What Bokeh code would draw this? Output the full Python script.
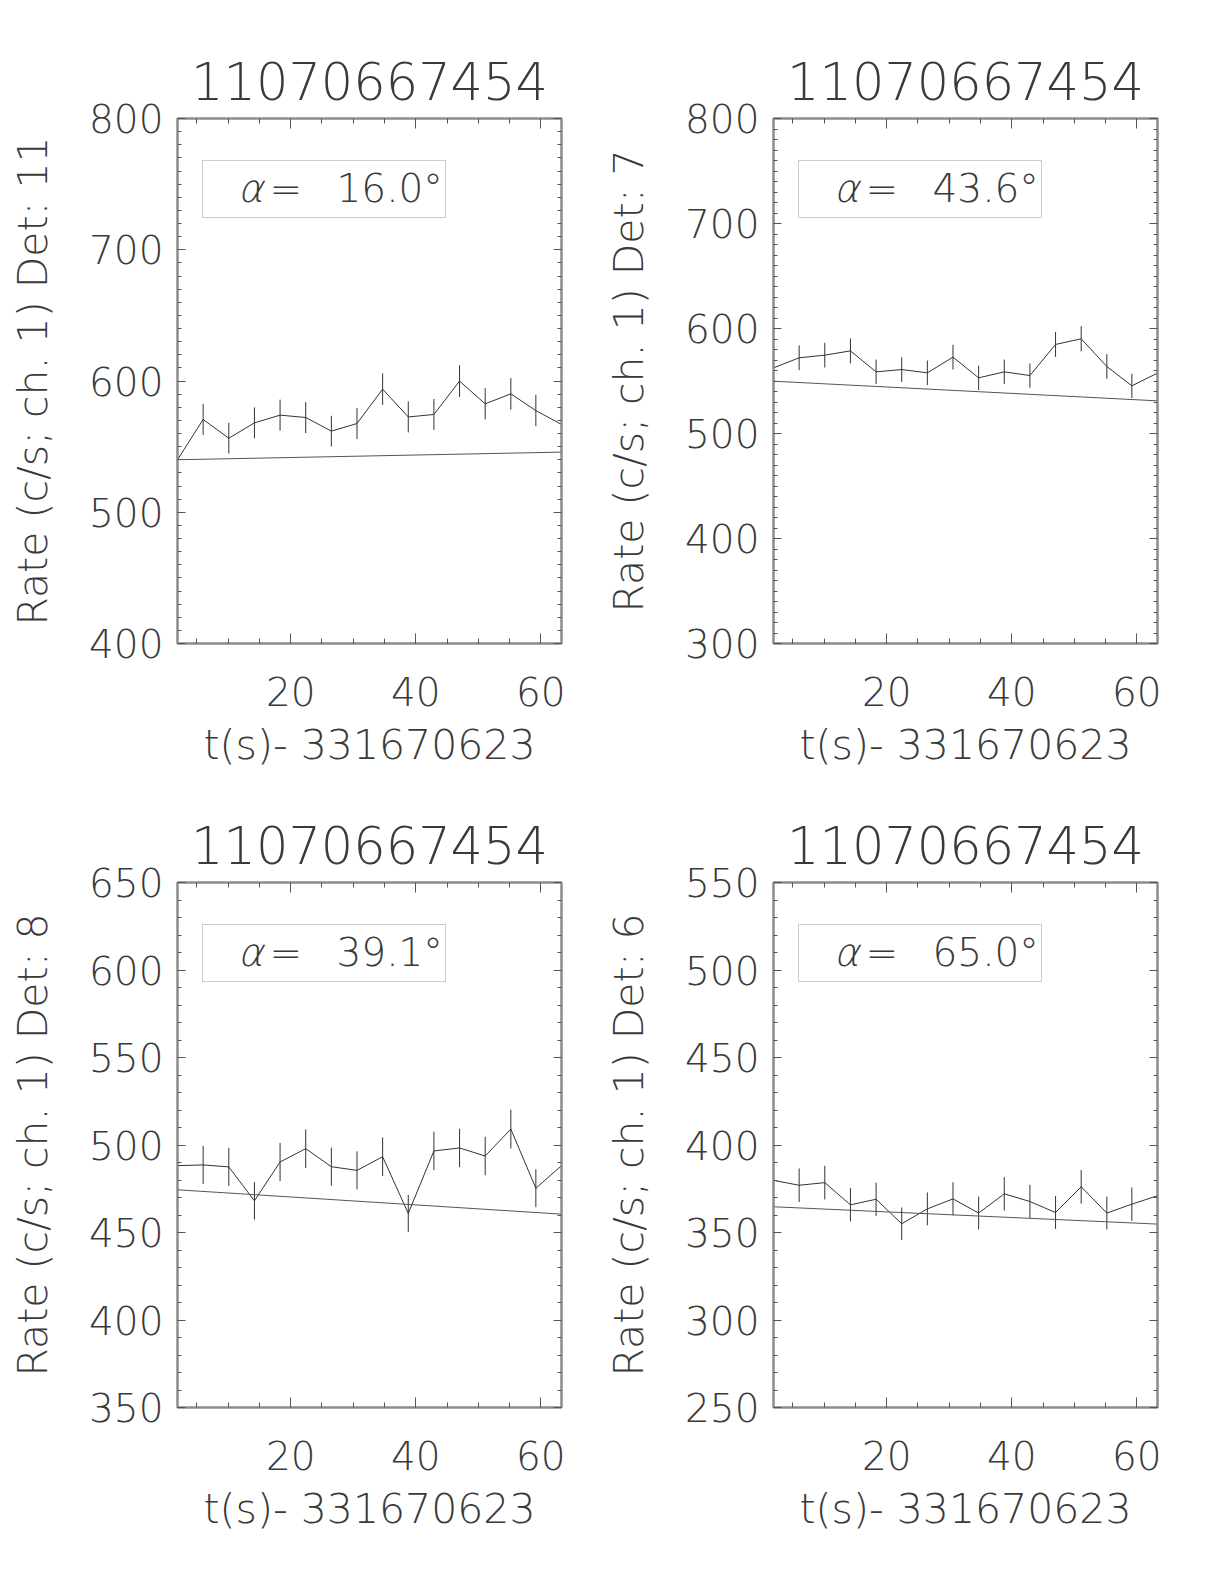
from bokeh.plotting import figure
from bokeh.layouts import gridplot
from bokeh.models import (LinearAxis, Range1d, BoxAnnotation, Label, FixedTicker,
                          SingleIntervalTicker, CustomLabelingPolicy)
from bokeh.embed import file_html
from bokeh.resources import INLINE

# ---------------- data ----------------
title_text = "11070667454"
x_label = "t(s)- 331670623"
t_sec = [1.9, 6.0, 10.1, 14.2, 18.3, 22.4, 26.5, 30.6, 34.7, 38.8, 42.9, 47.0, 51.1, 55.2, 59.2, 63.3]
x_major_ticks = [20, 40, 60]
x_minor_ticks = [5, 10, 15, 25, 30, 35, 45, 50, 55]

detectors = ["11", "7", "8", "6"]
alpha_deg = ["16.0", "43.6", "39.1", "65.0"]
y_lo = [400, 300, 350, 250]
y_hi = [800, 800, 650, 550]
y_step = [100, 100, 50, 50]
y_minor = [10, 10, 5, 5]

rate_det11 = [540.0, 570.7, 556.4, 568.1, 574.0, 572.2, 561.8, 567.6, 593.8, 572.6, 574.5, 599.9, 582.6, 590.2, 577.5, 566.9]
err_det11 = [11.5, 11.8, 11.7, 11.8, 11.8, 11.8, 11.7, 11.8, 12.0, 11.8, 11.8, 12.1, 11.9, 12.0, 11.9, 11.8]
fit_det11 = [540.0, 545.8]

rate_det7 = [562.5, 572.1, 574.6, 578.7, 558.7, 560.9, 557.8, 572.7, 553.0, 558.7, 555.2, 584.8, 590.2, 563.8, 545.4, 557.5]
err_det7 = [11.7, 11.8, 11.8, 11.9, 11.7, 11.7, 11.7, 11.8, 11.6, 11.7, 11.6, 11.9, 12.0, 11.7, 11.5, 11.7]
fit_det7 = [549.8, 531.1]

rate_det8 = [488.2, 488.6, 487.5, 468.1, 490.3, 497.9, 487.6, 485.5, 493.3, 460.9, 496.6, 498.3, 493.7, 509.1, 475.3, 488.2]
err_det8 = [10.9, 10.9, 10.9, 10.7, 10.9, 11.0, 10.9, 10.9, 11.0, 10.6, 11.0, 11.0, 11.0, 11.1, 10.8, 10.9]
fit_det8 = [474.4, 460.5]

rate_det6 = [379.8, 377.0, 378.5, 365.8, 369.0, 355.0, 363.5, 369.2, 361.1, 372.1, 367.7, 361.4, 376.1, 361.1, 366.2, 371.0]
err_det6 = [9.6, 9.6, 9.6, 9.5, 9.5, 9.3, 9.4, 9.5, 9.4, 9.5, 9.5, 9.4, 9.6, 9.4, 9.5, 9.5]
fit_det6 = [364.7, 354.8]

rates = [rate_det11, rate_det7, rate_det8, rate_det6]
errs = [err_det11, err_det7, err_det8, err_det6]
fits = [fit_det11, fit_det7, fit_det8, fit_det6]

# ---------------- style ----------------
FONT = "DejaVu Sans Light, DejaVu Sans"
TEXT_C = "#3a3a3a"
LINE_C = "#333333"
FRAME_C = "#8c8c8c"
TICK_C = "#555555"
FRAME_W, FRAME_H = 384, 525
BORDER_L = 177
FIG_W = [596, 612]
BORDER_T = [118, 99]
BORDER_B = 140


def style_axis(ax, ticker, major_in, minor_in, labels):
    ax.ticker = ticker
    ax.axis_line_color = FRAME_C
    ax.axis_line_width = 2
    ax.major_tick_in = major_in
    ax.major_tick_out = 0
    ax.minor_tick_in = minor_in
    ax.minor_tick_out = 0
    ax.major_tick_line_color = TICK_C
    ax.minor_tick_line_color = TICK_C
    ax.major_label_text_font = FONT
    ax.major_label_text_color = TEXT_C
    ax.axis_label_text_font = FONT
    ax.axis_label_text_font_style = "normal"
    ax.axis_label_text_color = TEXT_C
    if labels:
        ax.major_label_text_font_size = "39px"
        ax.axis_label_text_font_size = "41px"
    else:
        # mirrored box axis: ticks only, no labels drawn
        ax.major_label_policy = CustomLabelingPolicy(code="return []")
        ax.major_label_text_font_size = "1px"
        ax.major_label_standoff = 0
        ax.axis_label = None


def make_panel(i):
    col, row = i % 2, i // 2
    x0, x1 = t_sec[0], t_sec[-1]
    y0, y1 = y_lo[i], y_hi[i]
    height = BORDER_T[row] + FRAME_H + BORDER_B
    p = figure(width=FIG_W[col], height=height, output_backend="svg", toolbar_location=None,
               x_range=Range1d(x0, x1), y_range=Range1d(y0, y1),
               min_border_left=BORDER_L, min_border_right=FIG_W[col] - BORDER_L - FRAME_W,
               min_border_top=BORDER_T[row], min_border_bottom=BORDER_B,
               background_fill_color="white", border_fill_color="white")
    p.grid.visible = False
    p.outline_line_color = FRAME_C
    p.outline_line_width = 2

    xt = FixedTicker(ticks=x_major_ticks, minor_ticks=x_minor_ticks)
    yt = SingleIntervalTicker(interval=y_step[i], num_minor_ticks=y_minor[i])

    xa = p.xaxis[0]
    style_axis(xa, xt, 10, 5, True)
    xa.axis_label = x_label
    xa.major_label_standoff = 33
    xa.axis_label_standoff = 12

    ya = p.yaxis[0]
    style_axis(ya, yt, 8, 4, True)
    ya.axis_label = "Rate (c/s; ch. 1) Det: " + detectors[i]
    ya.major_label_standoff = 14
    ya.axis_label_standoff = 29
    ya.major_label_orientation = "horizontal"

    top = LinearAxis()
    style_axis(top, FixedTicker(ticks=x_major_ticks, minor_ticks=x_minor_ticks), 10, 5, False)
    p.add_layout(top, "above")
    right = LinearAxis()
    style_axis(right, SingleIntervalTicker(interval=y_step[i], num_minor_ticks=y_minor[i]), 8, 4, False)
    p.add_layout(right, "right")

    p.title.text = title_text
    p.title.align = "center"
    p.title.text_font = FONT
    p.title.text_font_style = "normal"
    p.title.text_font_size = "51px"
    p.title.text_color = TEXT_C
    p.title.standoff = 30

    rate, err, fit = rates[i], errs[i], fits[i]
    lo = [r - e for r, e in zip(rate, err)]
    hi = [r + e for r, e in zip(rate, err)]
    p.line(t_sec, rate, line_color=LINE_C, line_width=1)
    p.segment(x0=t_sec, y0=lo, x1=t_sec, y1=hi, line_color=LINE_C, line_width=1)
    p.line([t_sec[0], t_sec[-1]], fit, line_color="#555555", line_width=1)

    # annotation box placed relative to the frame
    def fx(px):
        return x0 + px / FRAME_W * (x1 - x0)

    def fy(py):
        return y1 - py / FRAME_H * (y1 - y0)

    p.add_layout(BoxAnnotation(left=fx(25), right=fx(268), top=fy(42), bottom=fy(99),
                               fill_alpha=0, line_color="#555555", line_width=1))
    common = dict(text_font=FONT, text_font_size="39px", text_color=TEXT_C,
                  text_baseline="middle", text_align="left")
    p.add_layout(Label(x=fx(60), y=fy(70), text="α", text_font_style="italic", **common))
    p.add_layout(Label(x=fx(92), y=fy(70), text="=", **common))
    p.add_layout(Label(x=fx(159), y=fy(70), text=alpha_deg[i] + "°", **common))
    return p


panels = [make_panel(i) for i in range(4)]
grid = gridplot([[panels[0], panels[1]], [panels[2], panels[3]]], toolbar_location=None)

open("out.html", "w").write(file_html(grid, INLINE))
